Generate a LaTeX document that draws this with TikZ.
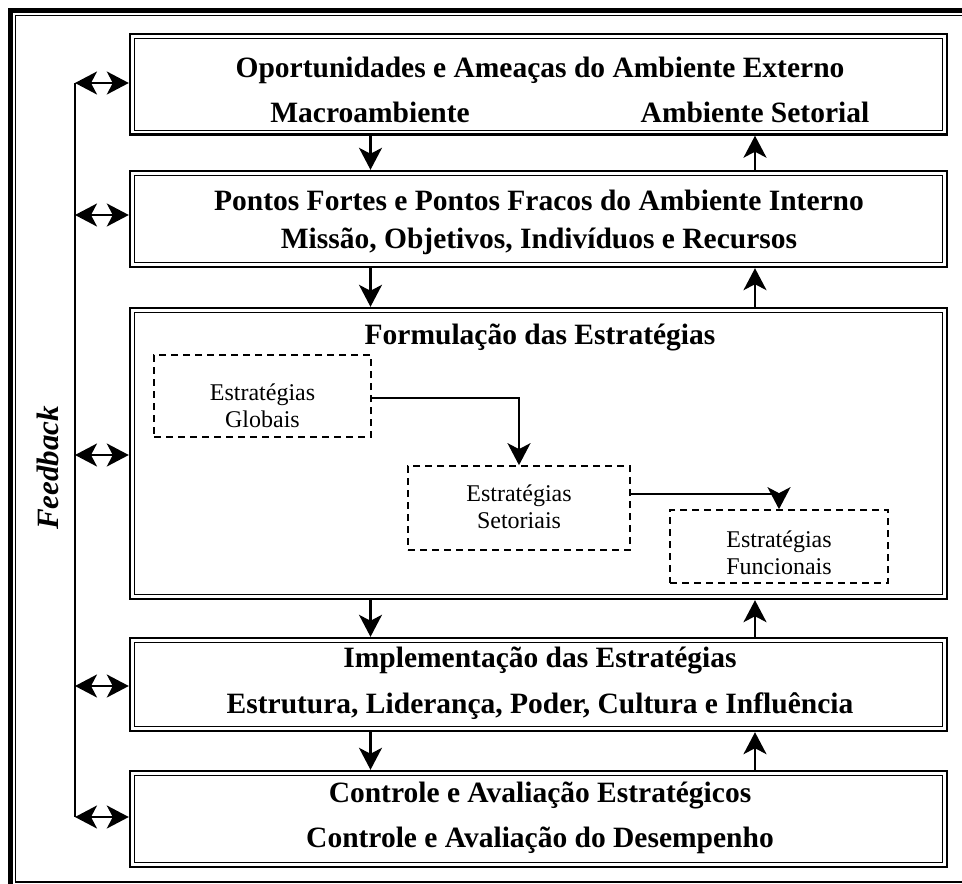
\documentclass[tikz,border=0pt]{standalone}
\usepackage{fontspec}
\setmainfont{Liberation Serif}
\usetikzlibrary{arrows.meta}
\begin{document}
\begin{tikzpicture}[x=1pt,y=-1pt,
  bigbox/.style={draw, line width=2.4pt, minimum width=817pt, inner sep=0pt},
  innerline/.style={line width=1.4pt},
  dbox/.style={draw, line width=1.7pt, dash pattern=on 7pt off 5pt, minimum width=217pt, minimum height=82pt, inner sep=0pt},
  ttl/.style={font=\fontsize{29.5}{31}\selectfont\bfseries},
  dtxt/.style={font=\fontsize{24}{27}\selectfont, align=center},
  arr/.style={line width=2.2pt, -{Stealth[length=22pt,width=23pt,inset=6pt]}},
  darr/.style={line width=2.2pt, {Stealth[length=22pt,width=23pt,inset=6pt]}-{Stealth[length=22pt,width=23pt,inset=6pt]}},
  fb/.style={line width=2.2pt}
]
\useasboundingbox (0,0) rectangle (962,884);
\clip (0,0) rectangle (962,884);
% outer frame
\draw[line width=5pt] (10.5,10.5) rectangle (970,892);
\draw[line width=1.5pt] (15.5,15.5) rectangle (964,882);
% main boxes (outer line)
\node[bigbox, minimum height=100.5pt] (b1) at (538.5,84.25) {};
\node[bigbox, minimum height=96pt]    (b2) at (538.5,219) {};
\node[bigbox, minimum height=291pt]   (b3) at (538.5,453.5) {};
\node[bigbox, minimum height=93pt]    (b4) at (538.5,684.5) {};
\node[bigbox, minimum height=96pt]    (b5) at (538.5,819) {};
\foreach \b in {b1,b2,b3,b4,b5}{
  \draw[innerline] ([shift={(5.5pt,-5.5pt)}]\b.north west) rectangle ([shift={(-5.5pt,5.5pt)}]\b.south east);
}
% texts
\node[ttl] (t1a) at (540,70) {Oportunidades e Ameaças do Ambiente Externo};
\node[ttl] (t1b) at (370,112) {Macroambiente};
\node[ttl] (t1c) at (755,112) {Ambiente Setorial};
\node[ttl] (t2a) at (539,200) {Pontos Fortes e Pontos Fracos do Ambiente Interno};
\node[ttl] (t2b) at (539,241) {Missão, Objetivos, Indivíduos e Recursos};
\node[ttl] (t3a) at (540,337) {Formulação das Estratégias};
\node[ttl] (t4a) at (540,660) {Implementação das Estratégias};
\node[ttl] (t4b) at (540,706) {Estrutura, Liderança, Poder, Cultura e Influência};
\node[ttl] (t5a) at (540,795) {Controle e Avaliação Estratégicos};
\node[ttl] (t5b) at (540,840) {Controle e Avaliação do Desempenho};
% dashed boxes
\node[dbox] (A) at (262.5,396) {};
\node[dbox, minimum width=222pt, minimum height=84pt] (B) at (519,508) {};
\node[dbox, minimum width=218pt, minimum height=73pt] (C) at (779,546.5) {};
\node[dtxt] (tA) at (262.5,406) {Estratégias\\Globais};
\node[dtxt] (tB) at (519,507) {Estratégias\\Setoriais};
\node[dtxt] (tC) at (779,553) {Estratégias\\Funcionais};
\draw[arr] ([yshift=-2pt]A.east) -| (B.north);
\draw[arr] ([yshift=14pt]B.east) -| (C.north);
% vertical arrows between boxes
\draw[arr] (b1.south -| 370.5,0) -- (b2.north -| 370.5,0);
\draw[arr] (b2.north -| 755,0) -- (b1.south -| 755,0);
\draw[arr] (b2.south -| 370.5,0) -- (b3.north -| 370.5,0);
\draw[arr] (b3.north -| 755,0) -- (b2.south -| 755,0);
\draw[arr] (b3.south -| 370.5,0) -- (b4.north -| 370.5,0);
\draw[arr] (b4.north -| 755,0) -- (b3.south -| 755,0);
\draw[arr] (b4.south -| 370.5,0) -- (b5.north -| 370.5,0);
\draw[arr] (b5.north -| 755,0) -- (b4.south -| 755,0);
% feedback
\coordinate (f1) at (75,83);
\coordinate (f5) at (75,817);
\draw[fb] (f1) -- (f5);
\draw[darr] (f1) -- (b1.west |- f1);
\draw[darr] (75,215) -- (b2.west |- 0,215);
\draw[darr] (75,455) -- (b3.west |- 0,455);
\draw[darr] (75,686) -- (b4.west |- 0,686);
\draw[darr] (f5) -- (b5.west |- f5);
\node[font=\fontsize{31}{33}\selectfont\bfseries\itshape, rotate=90] (fbt) at (48,468) {Feedback};
\end{tikzpicture}
\end{document}
